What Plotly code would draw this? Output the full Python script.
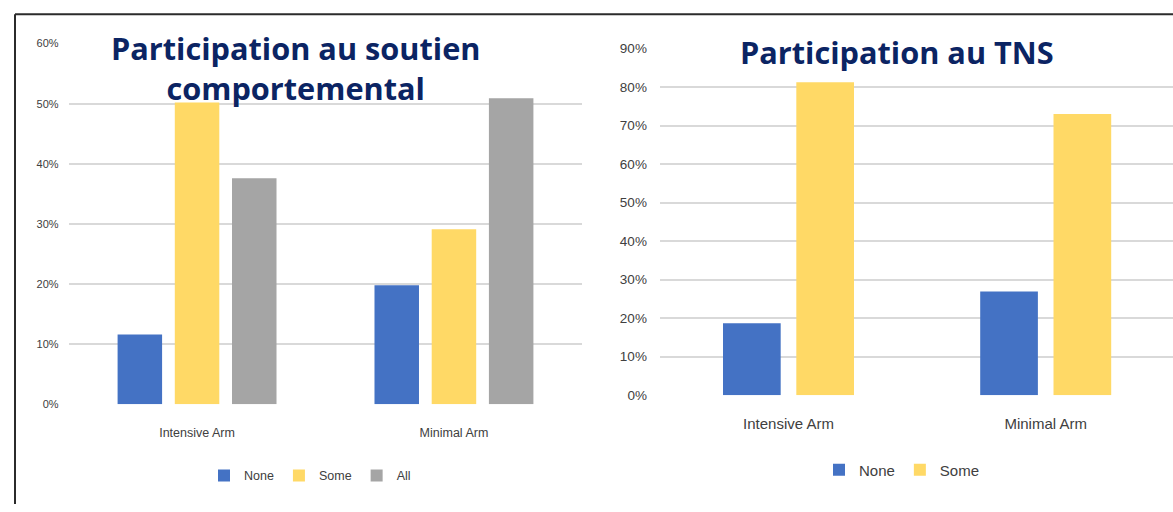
import plotly.graph_objects as go

# Study arms shown on both panels
arms = ["Intensive Arm", "Minimal Arm"]

# Behavioural-support participation (% of participants)
soutien_none = [11.6, 19.8]
soutien_some = [50.2, 29.1]
soutien_all = [37.6, 50.9]

# NRT (TNS) participation (% of participants)
tns_none = [18.7, 26.9]
tns_some = [81.2, 73.0]

left_ticks = [0, 10, 20, 30, 40, 50, 60]
right_ticks = [0, 10, 20, 30, 40, 50, 60, 70, 80, 90]

BLUE = "#4472C4"
YELLOW = "#FFD966"
GRAY = "#A5A5A5"
NAVY = "#0B2463"
TICK = "#404040"
GRID = "#D9D9D9"
SANS = "Liberation Sans, Arial, sans-serif"
TITLE_FONT = "Open Sans, Lato, sans-serif"

W, H = 1173, 512


def px_x(v):
    return v / W


def px_y(v):
    return 1 - v / H


fig = go.Figure()

# left panel: three bars per arm
left_series = [("None", soutien_none, BLUE), ("Some", soutien_some, YELLOW), ("All", soutien_all, GRAY)]
slot_l, bar_l = 0.2227, 0.1732
for i, (name, vals, col) in enumerate(left_series):
    fig.add_trace(go.Bar(
        x=arms, y=vals, name=name, marker=dict(color=col, line=dict(width=0)),
        width=bar_l, offset=-1.5 * slot_l + i * slot_l + (slot_l - bar_l) / 2,
        xaxis="x", yaxis="y", legend="legend",
    ))

# right panel: two bars per arm
right_series = [("None", tns_none, BLUE), ("Some", tns_some, YELLOW)]
slot_r, bar_r = 0.285, 0.2243
for i, (name, vals, col) in enumerate(right_series):
    fig.add_trace(go.Bar(
        x=arms, y=vals, name=name, marker=dict(color=col, line=dict(width=0)),
        width=bar_r, offset=-1.0 * slot_r + i * slot_r + (slot_r - bar_r) / 2,
        xaxis="x2", yaxis="y2", legend="legend2",
    ))

common_x = dict(type="category", showgrid=False, showline=False, zeroline=False,
                ticks="", fixedrange=True)
common_y = dict(showline=False, zeroline=False, gridcolor=GRID, gridwidth=1.5,
                ticks="", fixedrange=True)

fig.update_layout(
    width=W, height=H,
    margin=dict(l=0, r=0, t=0, b=0),
    paper_bgcolor="white", plot_bgcolor="white",
    barmode="group",
    showlegend=True,
    xaxis=dict(**common_x, domain=[px_x(68.6), px_x(582.4)], range=[-0.5, 1.5],
               anchor="y", tickfont=dict(family=SANS, size=12.5, color=TICK),
               ticklabelstandoff=19),
    yaxis=dict(**common_y, domain=[px_y(409.3), px_y(37.7)], range=[0, 60],
               tickvals=left_ticks, ticktext=[f"{v}%" for v in left_ticks], anchor="x",
               tickfont=dict(family=SANS, size=11, color=TICK), ticklabelstandoff=9),
    xaxis2=dict(**common_x, domain=[px_x(659.9), 1.0], range=[-0.5, -0.5 + (W - 659.9) / 257.2],
                anchor="y2", tickfont=dict(family=SANS, size=15, color=TICK),
                ticklabelstandoff=18),
    yaxis2=dict(**common_y, domain=[px_y(400), px_y(42.7)], range=[0, 90],
                tickvals=right_ticks, ticktext=[f"{v}%" for v in right_ticks], anchor="x2",
                tickfont=dict(family=SANS, size=13.5, color=TICK), ticklabelstandoff=12),
    legend=dict(orientation="h", x=px_x(310), y=px_y(483), xanchor="center", yanchor="middle",
                font=dict(family=SANS, size=12.5, color=TICK), bgcolor="rgba(0,0,0,0)"),
    legend2=dict(orientation="h", x=px_x(902), y=px_y(477), xanchor="center", yanchor="middle",
                 font=dict(family=SANS, size=15, color=TICK), bgcolor="rgba(0,0,0,0)"),
)

# panel titles
title_font = dict(family=TITLE_FONT, size=30.7, color=NAVY, weight="bold")
fig.add_annotation(text="Participation au soutien<br>comportemental",
                   xref="paper", yref="paper", x=px_x(295), y=px_y(63),
                   xanchor="center", yanchor="middle", showarrow=False, align="center",
                   font=title_font)
fig.add_annotation(text="Participation au TNS",
                   xref="paper", yref="paper", x=px_x(897), y=px_y(46),
                   xanchor="center", yanchor="middle", showarrow=False,
                   font=title_font)

# frame around the figure (top and left edges)
frame = dict(color="#2B2B2B", width=2)
fig.add_shape(type="line", xref="paper", yref="paper", x0=px_x(15), x1=1.0, y0=px_y(7.5), y1=px_y(7.5), line=frame)
fig.add_shape(type="line", xref="paper", yref="paper", x0=px_x(15), x1=px_x(15), y0=0, y1=px_y(7.5), line=frame)

fig.write_html("out.html")
